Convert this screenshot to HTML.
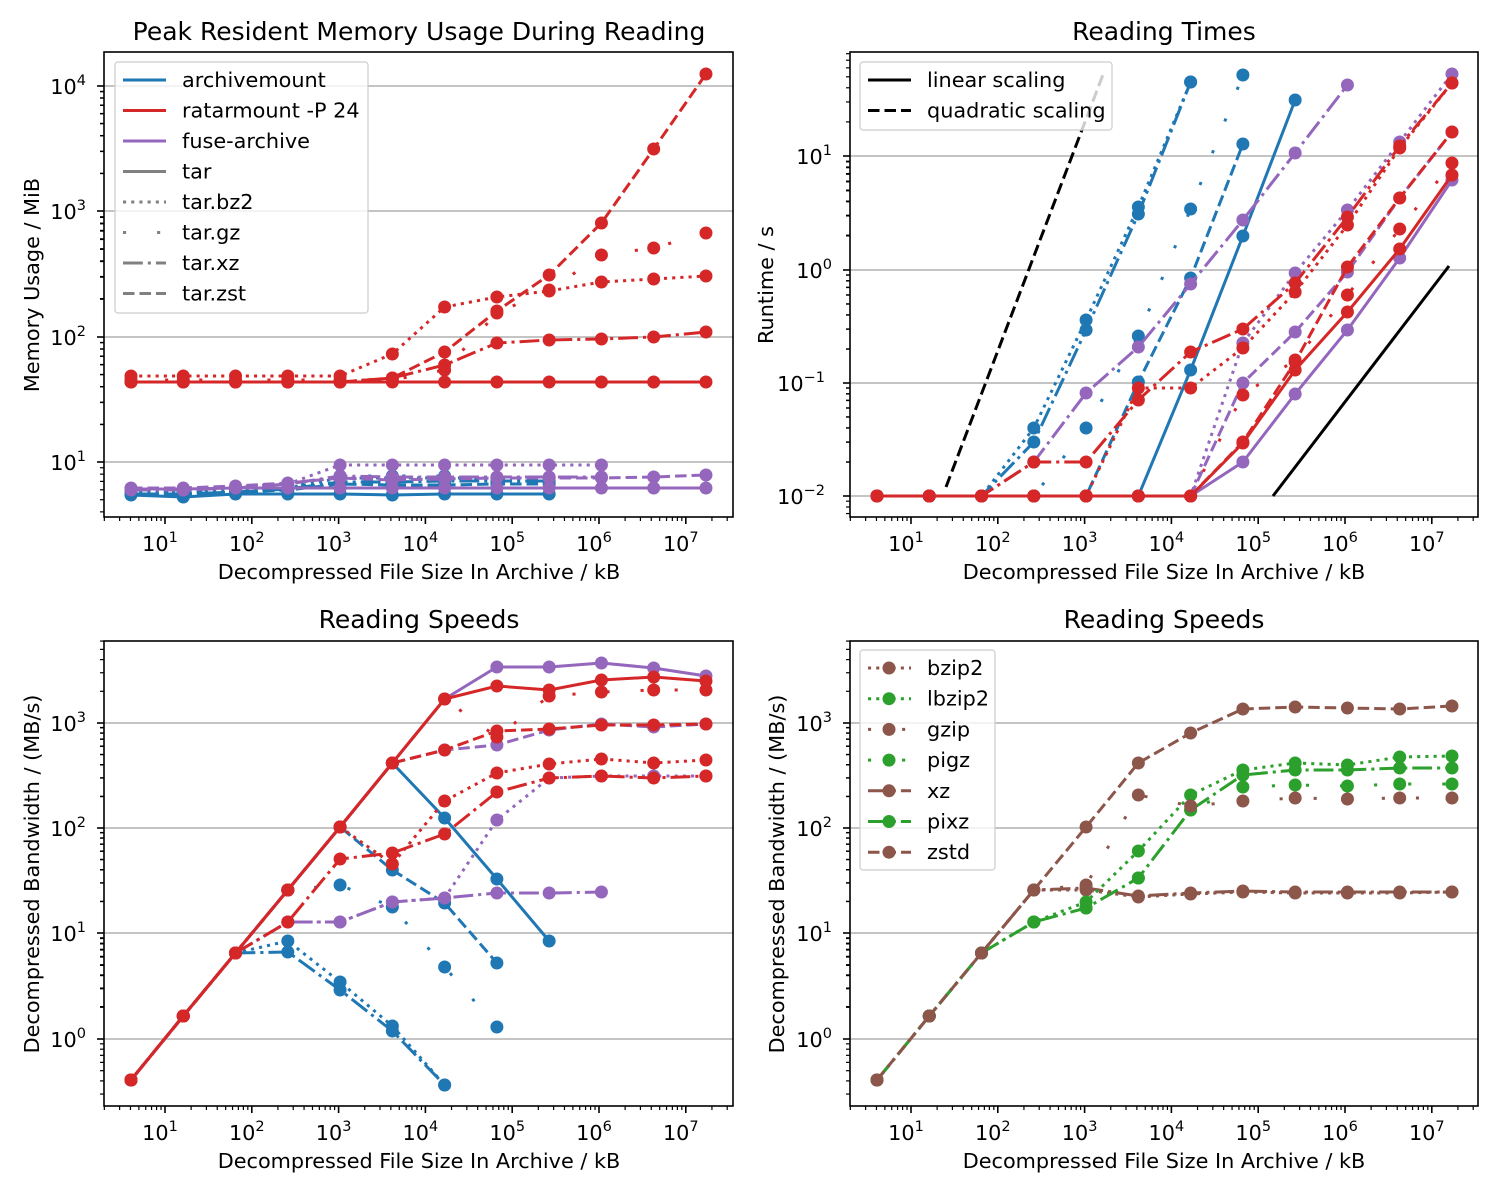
<!DOCTYPE html>
<html><head><meta charset="utf-8"><style>
html,body{margin:0;padding:0;background:#fff;}
svg{display:block;font-family:"DejaVu Sans","Liberation Sans",sans-serif;}
</style></head><body>
<svg id="s" width="1500" height="1200" xmlns="http://www.w3.org/2000/svg">
<rect width="1500" height="1200" fill="#fff"/>
<text x="419" y="40" font-size="25" text-anchor="middle">Peak Resident Memory Usage During Reading</text>
<text x="1164" y="40" font-size="25" text-anchor="middle">Reading Times</text>
<text x="419" y="628" font-size="25" text-anchor="middle">Reading Speeds</text>
<text x="1164" y="628" font-size="25" text-anchor="middle">Reading Speeds</text>
<text x="419" y="579" font-size="20.8" text-anchor="middle">Decompressed File Size In Archive / kB</text>
<text x="1164" y="579" font-size="20.8" text-anchor="middle">Decompressed File Size In Archive / kB</text>
<text x="419" y="1168" font-size="20.8" text-anchor="middle">Decompressed File Size In Archive / kB</text>
<text x="1164" y="1168" font-size="20.8" text-anchor="middle">Decompressed File Size In Archive / kB</text>
<text transform="translate(39,285) rotate(-90)" font-size="20.8" text-anchor="middle">Memory Usage / MiB</text>
<text transform="translate(773,285) rotate(-90)" font-size="20.8" text-anchor="middle">Runtime / s</text>
<text transform="translate(39,874) rotate(-90)" font-size="20.8" text-anchor="middle">Decompressed Bandwidth / (MB/s)</text>
<text transform="translate(784,874) rotate(-90)" font-size="20.8" text-anchor="middle">Decompressed Bandwidth / (MB/s)</text>
<g id="g"></g>
</svg>
<script>
var NS="http://www.w3.org/2000/svg",G=document.getElementById('g');
function el(t,a,p){var e=document.createElementNS(NS,t);for(var k in a)e.setAttribute(k,a[k]);(p||G).appendChild(e);return e;}
var C={b:'#1f77b4',r:'#d62728',p:'#9467bd',g:'#2ca02c',n:'#8c564b',k:'#000'};
var D={s:'',d:'3.1,5.1',gz:'3.1,31',x:'19.8,5,3.1,5',z:'11.5,5'};
function panel(x0,y0,x1,y1,yt){
  yt.forEach(function(t){el('line',{x1:x0,x2:x1,y1:t[0],y2:t[0],stroke:'#b0b0b0','stroke-width':1.6});});
}
function frame(x0,y0,x1,y1,yt,xo,ystep){
  el('rect',{x:x0,y:y0,width:x1-x0,height:y1-y0,fill:'none',stroke:'#000','stroke-width':1.6});
  var dec=86.8;
  for(var k=0;k<=7;k++){for(var m=1;m<10;m++){var x=xo+165+(k-1+Math.log10(m))*dec;if(x<x0||x>x1)continue;
    el('line',{x1:x,x2:x,y1:y1,y2:y1+(m==1?7:4),stroke:'#000','stroke-width':m==1?1.6:1.2});}
    if(k>=1){var tx=el('text',{x:xo+165+(k-1)*dec-5,y:y1+34,'font-size':20.8,'text-anchor':'middle'});tx.textContent='10';
      var ts=el('tspan',{dy:-9,'font-size':14.5},tx);ts.textContent=k;}
  }
  yt.forEach(function(t){
    for(var m=1;m<10;m++){var y=t[0]-Math.log10(m)*ystep;if(y<y0||y>y1)continue;
      el('line',{x1:x0,x2:x0-(m==1?7:4),y1:y,y2:y,stroke:'#000','stroke-width':m==1?1.6:1.2});}
    for(var m=2;m<10;m++){var y=t[0]+(1-Math.log10(m))*ystep; if(y<y0||y>y1)continue;
      el('line',{x1:x0,x2:x0-4,y1:y,y2:y,stroke:'#000','stroke-width':1.2});}
    var neg=(typeof t[1]==='string');
    var tx=el('text',{x:x0-(neg?25:18),y:t[0]+8,'font-size':20.8,'text-anchor':'end'});tx.textContent='10';
    var ts=el('tspan',{dy:-9,'font-size':14.5},tx);ts.textContent=t[1];
  });
}
function X(i,xo){return xo+131+i*52.27;}
function ser(xo,c,d,i0,ys,mk){
  var pts=ys.map(function(y,j){return X(i0+j,xo)+','+y;}).join(' ');
  var a={points:pts,fill:'none',stroke:C[c],'stroke-width':3};
  if(D[d])a['stroke-dasharray']=D[d];
  el('polyline',a);
  if(mk!==false)ys.forEach(function(y,j){el('circle',{cx:X(i0+j,xo),cy:y,r:6.5,fill:C[c]});});
}
panel(104,52,733,517,[[462],[337],[211],[86]]);
panel(850,52,1478,517,[[496],[383],[270],[156]]);
panel(104,641,733,1106,[[1039],[933],[828],[723]]);
panel(850,641,1478,1106,[[1039],[933],[828],[723]]);

var o=0;
ser(o,'b','s',0,[495,497,494,494,494,495,494,494,494]);
ser(o,'b','d',0,[493,492,490,488,478,478,478,478]);
ser(o,'b','gz',0,[493,492,490,488,476,476,476]);
ser(o,'b','x',0,[494,494,492,489,482,482,481,481,481]);
ser(o,'b','z',0,[494,494,492,490,484,485,485,484,484]);
ser(o,'p','s',0,[489,489,488,488,488,488,488,488,488,488,488,488]);
ser(o,'p','d',0,[489,490,487,484,465,465,465,465,465,465]);
ser(o,'p','x',0,[490,490,488,484,476,477,477,477,477,477]);
ser(o,'p','z',0,[488,488,486,483,478,480,479,478,478,478,477,475]);
ser(o,'r','s',0,[382,382,382,382,382,382,382,382,382,382,382,382]);
ser(o,'r','d',0,[376,376,376,376,376,354,307,297,291,282,279,276]);
ser(o,'r','x',0,[382,382,382,382,382,378,365,343,340,339,337,332]);
ser(o,'r','gz',0,[380,380,380,380,380,380,370,313,290,255,248,233]);
ser(o,'r','z',0,[382,382,382,382,382,378,352,311,275,223,149,74]);

o=746;
el('polyline',{points:'1273,496 1449,266',fill:'none',stroke:'#000','stroke-width':3});
el('polyline',{points:'946,487 1104,72',fill:'none',stroke:'#000','stroke-width':3,'stroke-dasharray':D.z});
ser(o,'b','d',0,[496,496,496,428,320,207,82]);
ser(o,'b','x',0,[496,496,496,442,330,214,82]);
ser(o,'b','gz',0,[496,496,496,496,428,336,209,75]);
ser(o,'b','z',0,[496,496,496,496,496,382,278,144]);
ser(o,'b','s',0,[496,496,496,496,496,496,370,236,100]);
ser(o,'p','x',0,[496,496,496,462,393,347,284,220,153,85]);
ser(o,'p','d',0,[496,496,496,496,496,496,496,343,273,210,142,74]);
ser(o,'p','z',0,[496,496,496,496,496,496,496,383,332,272,198,132]);
ser(o,'p','s',0,[496,496,496,496,496,496,496,462,394,330,258,180]);
ser(o,'r','x',0,[496,496,496,462,462,400,352,329,283,217,146,83]);
ser(o,'r','d',0,[496,496,496,496,496,388,388,348,292,225,148,83]);
ser(o,'r','z',0,[496,496,496,496,496,496,496,442,362,267,198,132]);
ser(o,'r','gz',0,[496,496,496,496,496,496,496,395,360,295,229,163]);
ser(o,'r','s',0,[496,496,496,496,496,496,496,443,370,312,249,175]);

o=0;var st=[1080,1016,953];
ser(o,'b','d',0,st.concat([941,982,1026,1085]));
ser(o,'b','x',0,st.concat([952,990,1031,1085]));
ser(o,'b','z',0,st.concat([890,827,870,903,963]));
ser(o,'b','gz',0,st.concat([890,885,907,967,1027]));
ser(o,'b','s',0,st.concat([890,827,763,818,879,941]));
ser(o,'p','x',0,st.concat([922,922,902,898,893,893,892]));
ser(o,'p','z',0,st.concat([890,827,763,750,745,730,724,727,724]));
ser(o,'p','d',0,st.concat([922,922,902,898,820,778,776,776,776]));
ser(o,'p','s',0,st.concat([890,827,763,699,667,667,663,668,676]));
ser(o,'r','x',0,st.concat([922,859,853,834,792,778,776,778,776]));
ser(o,'r','d',0,st.concat([890,827,864,801,773,764,759,763,760]));
ser(o,'r','z',0,st.concat([890,827,763,750,731,729,725,725,724]));
ser(o,'r','gz',0,st.concat([890,827,763,699,737,696,692,690,690]));
ser(o,'r','s',0,st.concat([890,827,763,699,686,690,680,677,681]));

o=746;
ser(o,'n','d',0,st.concat([890,890,897,894,892,893,893,893,892]));
ser(o,'n','x',0,st.concat([890,888,896,893,891,892,892,892,892]));
ser(o,'g','d',0,st.concat([922,902,851,795,770,763,765,757,756]));
ser(o,'g','gz',0,st.concat([922,908,878,810,787,785,786,784,784]));
ser(o,'g','x',0,st.concat([922,908,878,810,775,770,770,768,768]));
ser(o,'n','gz',0,st.concat([890,885,795,806,801,798,799,798,798]));
ser(o,'n','z',0,st.concat([890,827,763,733,709,707,708,709,706]));

frame(104,52,733,517,[[462,1],[337,2],[211,3],[86,4]],0,125.3);
frame(850,52,1478,517,[[496,'\u22122'],[383,'\u22121'],[270,0],[156,1]],746,113.3);
frame(104,641,733,1106,[[1039,0],[933,1],[828,2],[723,3]],0,105.3);
frame(850,641,1478,1106,[[1039,0],[933,1],[828,2],[723,3]],746,105.3);

function legend(x,y,w,h,items,step){
  el('rect',{x:x,y:y,width:w,height:h,rx:3,fill:'#fff','fill-opacity':0.8,stroke:'#ccc','stroke-width':1.2});
  items.forEach(function(it,i){var yy=y+18+i*step;
    var a={x1:x+8,x2:x+51,y1:yy,y2:yy,stroke:it[1],'stroke-width':3};if(it[2])a['stroke-dasharray']=it[2];el('line',a);
    if(it[3])el('circle',{cx:x+29,cy:yy,r:6.5,fill:it[1]});
    var t=el('text',{x:x+67,y:yy+7,'font-size':20.8});t.textContent=it[0];});
}
legend(115,62,253,251,[['archivemount',C.b],['ratarmount -P 24',C.r],['fuse-archive',C.p],['tar','#808080'],['tar.bz2','#808080',D.d],['tar.gz','#808080',D.gz],['tar.xz','#808080',D.x],['tar.zst','#808080',D.z]],30.5);
legend(860,62,252,68,[['linear scaling','#000'],['quadratic scaling','#000',D.z]],30.5);
legend(860,650,135,220,[['bzip2',C.n,D.d,1],['lbzip2',C.g,D.d,1],['gzip',C.n,D.gz,1],['pigz',C.g,D.gz,1],['xz',C.n,D.x,1],['pixz',C.g,D.x,1],['zstd',C.n,D.z,1]],30.7);
</script>
</body></html>
